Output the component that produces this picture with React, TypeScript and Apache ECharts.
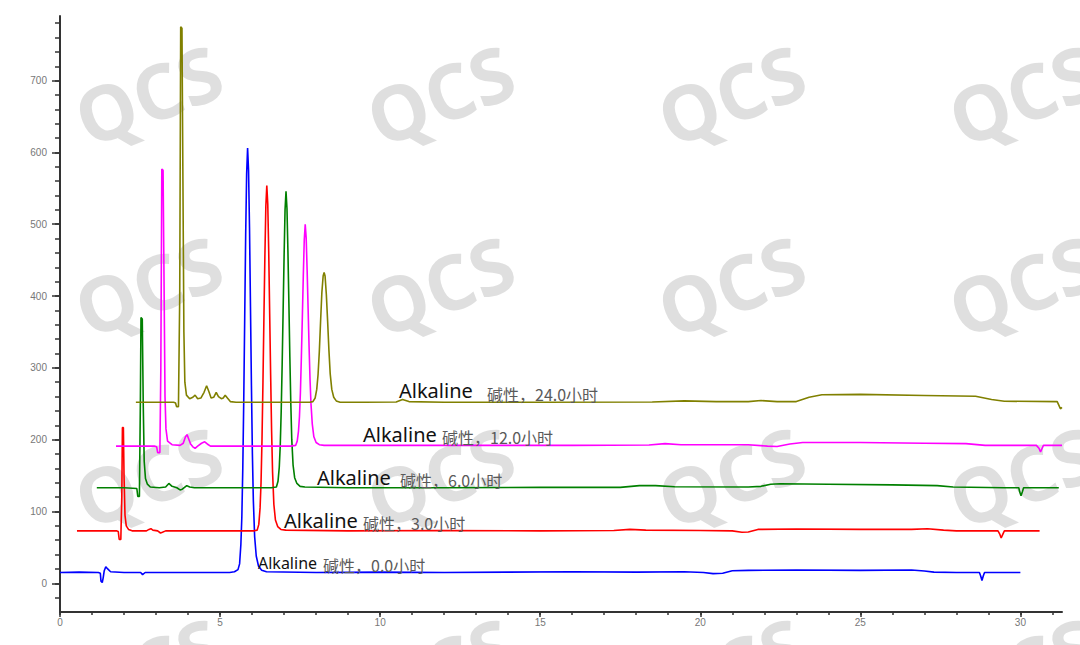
import React, { useEffect, useRef } from 'react';
import * as echarts from 'echarts';

// ---------- DATA ----------
const hourLabels = ['碱性，0.0小时', '碱性，3.0小时', '碱性，6.0小时', '碱性，12.0小时', '碱性，24.0小时'];
const sampleName = 'Alkaline';
const traceColors = ['#0000ff', '#ff0000', '#008000', '#ff00ff', '#808000'];

// retention time (min), signal
const trace0h: number[][] = [
  [0, 15], [0.6, 15.5], [1.2, 15], [1.26, 14], [1.28, 3], [1.32, 1], [1.35, 8], [1.38, 17], [1.43, 23], [1.49, 20], [1.58, 16],
  [2.0, 15], [2.52, 15], [2.58, 12], [2.66, 15], [3.5, 15], [4.5, 15], [5.3, 15],
  [5.45, 16], [5.56, 19], [5.61, 27], [5.65, 54], [5.68, 92], [5.71, 160], [5.74, 255], [5.77, 370], [5.8, 485], [5.83, 570],
  [5.86, 606], [5.89, 575], [5.92, 495], [5.95, 385], [5.98, 275], [6.01, 180], [6.04, 115], [6.08, 65], [6.13, 38], [6.2, 24],
  [6.3, 18], [6.45, 16], [8, 15], [10, 15.5], [12, 15], [14, 15.5], [16, 16], [18, 15.5], [19.5, 16], [20.1, 15], [20.4, 13.5],
  [20.7, 14], [21.0, 17.5], [21.5, 18], [23, 18.5], [25, 18], [26.6, 18.5], [27.0, 17], [27.3, 15.5], [28, 15], [28.72, 15],
  [28.76, 10], [28.8, 4], [28.84, 10], [28.88, 15], [29.5, 15], [30, 15],
];

const trace3h: number[][] = [
  [0.53, 73], [1.2, 73], [1.76, 73], [1.82, 72], [1.85, 61], [1.9, 61], [1.93, 120], [1.95, 217], [1.98, 217], [2.0, 150],
  [2.03, 95], [2.07, 80], [2.14, 75], [2.25, 73], [2.7, 73], [2.78, 75], [2.84, 76], [2.9, 74], [3.05, 73], [3.14, 70], [3.2, 71],
  [3.3, 73], [5, 73], [6.05, 73],
  [6.16, 74], [6.21, 82], [6.25, 105], [6.28, 140], [6.31, 200], [6.34, 280], [6.37, 370], [6.4, 455], [6.43, 525], [6.46, 554],
  [6.49, 528], [6.52, 462], [6.55, 375], [6.58, 290], [6.61, 212], [6.64, 155], [6.68, 110], [6.73, 88], [6.8, 79], [6.9, 75],
  [7.05, 74], [9, 73], [12, 73.5], [15, 73], [17.3, 73.5], [17.8, 75], [18.3, 74], [20, 73.5], [21.0, 73], [21.3, 71], [21.5, 71.5],
  [21.8, 75], [23, 75.5], [25, 75], [26.6, 75], [27.1, 76], [27.6, 74], [28, 73], [29.3, 73], [29.36, 68], [29.4, 63],
  [29.45, 68], [29.5, 73], [30.6, 73],
];

const trace6h: number[][] = [
  [1.15, 133], [2.0, 133], [2.4, 132], [2.43, 121], [2.48, 121], [2.51, 250], [2.53, 370], [2.57, 368], [2.6, 250], [2.63, 170],
  [2.67, 146], [2.73, 138], [2.82, 134], [3.1, 133], [3.3, 134], [3.4, 139], [3.5, 135], [3.65, 133], [3.75, 130], [3.82, 131],
  [3.96, 136], [4.05, 134], [4.2, 133], [6.6, 133],
  [6.76, 134], [6.81, 142], [6.85, 162], [6.88, 192], [6.91, 240], [6.94, 305], [6.97, 380], [7.0, 455], [7.03, 520], [7.06, 546],
  [7.09, 522], [7.12, 462], [7.15, 390], [7.18, 315], [7.21, 250], [7.24, 200], [7.28, 165], [7.33, 147], [7.4, 139], [7.5, 135],
  [7.65, 134], [9, 133], [12, 133], [15, 133.5], [17.5, 133.5], [18.1, 136], [18.6, 136], [19.2, 134.5], [21.5, 134], [21.9, 135],
  [22.2, 138], [22.5, 138.5], [24, 138], [26, 137], [27.4, 136], [27.9, 134], [29.5, 133], [29.95, 133], [29.98, 127],
  [30.02, 122], [30.06, 127], [30.1, 133], [31.2, 133],
];

const trace12h: number[][] = [
  [1.75, 191], [2.5, 191], [2.95, 191], [3.02, 190], [3.05, 182], [3.12, 182], [3.15, 300], [3.18, 577], [3.22, 575], [3.25, 420],
  [3.28, 260], [3.31, 215], [3.36, 198], [3.5, 193], [3.75, 192], [3.85, 195], [3.92, 204], [3.97, 207], [4.02, 201], [4.08, 194],
  [4.15, 190], [4.22, 188], [4.3, 191], [4.42, 195], [4.52, 197], [4.6, 194], [4.7, 191], [5.5, 191], [7.2, 191],
  [7.36, 192], [7.41, 198], [7.45, 212], [7.48, 232], [7.51, 266], [7.54, 315], [7.57, 370], [7.6, 428], [7.63, 478], [7.66, 500],
  [7.69, 481], [7.72, 436], [7.75, 383], [7.78, 330], [7.81, 284], [7.84, 250], [7.88, 222], [7.93, 204], [8.0, 196], [8.1, 193],
  [8.25, 192], [10, 192], [13, 192], [16, 192], [18.4, 192.5], [18.9, 194.5], [19.4, 193], [21.5, 193], [22.1, 191], [22.4, 190.5],
  [22.8, 194], [23.2, 196], [25, 196], [27, 195], [28.3, 194.5], [28.9, 192], [30.5, 192], [30.58, 188], [30.63, 183],
  [30.68, 188], [30.72, 192], [31.3, 192],
];

const trace24h: number[][] = [
  [2.37, 252], [3.0, 252], [3.55, 252], [3.61, 251], [3.64, 246], [3.7, 246], [3.74, 400], [3.77, 775], [3.81, 773], [3.84, 560],
  [3.87, 350], [3.9, 280], [3.95, 262], [4.05, 257], [4.15, 259], [4.22, 262], [4.3, 257], [4.4, 258], [4.5, 266], [4.58, 275],
  [4.65, 267], [4.72, 258], [4.8, 259], [4.88, 266], [4.95, 260], [5.04, 257], [5.1, 258], [5.16, 262], [5.23, 258], [5.32, 253],
  [5.5, 252], [7.8, 252],
  [7.9, 253], [7.97, 258], [8.02, 270], [8.06, 290], [8.1, 322], [8.14, 365], [8.18, 405], [8.22, 428], [8.25, 433], [8.28, 428],
  [8.32, 402], [8.36, 365], [8.4, 325], [8.44, 292], [8.49, 270], [8.55, 259], [8.63, 254], [8.75, 252],
  [9.5, 252], [10.5, 252.5], [10.7, 256], [10.9, 253], [12, 252], [15, 252], [18.5, 252.5], [19.5, 254], [20.5, 253], [21.5, 253],
  [21.9, 254.5], [22.4, 253], [23.0, 253], [23.4, 259], [23.8, 262.5], [25, 263], [27, 261.5], [28.6, 260.5], [29.1, 256],
  [29.5, 253.5], [31.15, 253], [31.2, 248], [31.25, 243], [31.3, 245],
];

const traces = [trace0h, trace3h, trace6h, trace12h, trace24h];

const yLabelValues = [0, 100, 200, 300, 400, 500, 600, 700];
const yMinorValues = [
  -20, 0, 20, 40, 60, 80, 100, 120, 140, 160, 180, 200, 220, 240, 260, 280, 300, 320, 340, 360, 380, 400,
  420, 440, 460, 480, 500, 520, 540, 560, 580, 600, 620, 640, 660, 680, 700, 720, 740, 760, 780,
];
const xLabelValues = [0, 5, 10, 15, 20, 25, 30];
const xMinorValues = [
  0, 1, 2, 3, 4, 5, 6, 7, 8, 9, 10, 11, 12, 13, 14, 15, 16, 17, 18, 19, 20, 21, 22, 23, 24, 25, 26, 27, 28, 29, 30, 31,
];

// ---------- LAYOUT ----------
const X_MIN = 0;
const X_MAX = 31.3;
const Y_MIN = -40;
const Y_MAX = 790;

// pixel placement of the trace annotations (layout only)
const labelLayout = [
  { ax: 258, cx: 323, ay: 563, cy: 565, aSize: 16, cSize: 16 },
  { ax: 284, cx: 363, ay: 520, cy: 523, aSize: 20, cSize: 16 },
  { ax: 317, cx: 400, ay: 477, cy: 480, aSize: 20, cSize: 16 },
  { ax: 363, cx: 442, ay: 434, cy: 437, aSize: 20, cSize: 16 },
  { ax: 399, cx: 487, ay: 390, cy: 394, aSize: 20, cSize: 16 },
];
const watermarkCols = [148, 440, 731, 1022];
const watermarkRows = [94, 285, 476, 667];

export default function App() {
  const ref = useRef<HTMLDivElement>(null);

  useEffect(() => {
    if (!ref.current) return;
    const chart = echarts.init(ref.current, undefined, { renderer: 'svg' });

    const graphics: any[] = [];
    watermarkRows.forEach((wy) => {
      watermarkCols.forEach((wx) => {
        graphics.push({
          type: 'text',
          x: wx,
          y: wy,
          rotation: (21 * Math.PI) / 180,
          z: 0,
          silent: true,
          style: {
            text: 'QCS',
            font: 'bold 76px "Open Sans", sans-serif',
            fill: 'rgba(120,120,120,0.24)',
            align: 'center',
            verticalAlign: 'middle',
          },
        });
      });
    });
    labelLayout.forEach((l, i) => {
      graphics.push({
        type: 'text',
        x: l.ax,
        y: l.ay,
        z: 100,
        style: {
          text: sampleName,
          font: `${l.aSize}px "Noto Sans", sans-serif`,
          fill: '#111111',
          align: 'left',
          verticalAlign: 'middle',
        },
      });
      graphics.push({
        type: 'text',
        x: l.cx,
        y: l.cy,
        z: 100,
        style: {
          text: hourLabels[i],
          font: `${l.cSize}px "Noto Sans CJK SC", sans-serif`,
          fill: '#5a5a5a',
          align: 'left',
          verticalAlign: 'middle',
        },
      });
    });

    const axisColor = '#333333';
    const labelStyle = { fontSize: 10, color: '#777777', fontFamily: 'Arial, "Liberation Sans", sans-serif' };

    chart.setOption({
      animation: false,
      backgroundColor: '#ffffff',
      grid: { left: 60, right: 18, top: 16, bottom: 33, containLabel: false, outerBoundsMode: 'none' },
      xAxis: [
        {
          type: 'value',
          min: X_MIN,
          max: X_MAX,
          position: 'bottom',
          axisLine: { show: true, onZero: false, lineStyle: { color: axisColor, width: 2 } },
          axisTick: { show: true, customValues: xLabelValues, length: 5, lineStyle: { color: axisColor, width: 1.5 } },
          axisLabel: { show: true, customValues: xLabelValues, margin: 5, ...labelStyle },
          splitLine: { show: false },
        },
        {
          type: 'value',
          min: X_MIN,
          max: X_MAX,
          position: 'bottom',
          axisLine: { show: false, onZero: false },
          axisTick: { show: true, customValues: xMinorValues, length: 3, lineStyle: { color: axisColor, width: 1.5 } },
          axisLabel: { show: false },
          splitLine: { show: false },
        },
      ],
      yAxis: [
        {
          type: 'value',
          min: Y_MIN,
          max: Y_MAX,
          position: 'left',
          axisLine: { show: true, onZero: false, lineStyle: { color: axisColor, width: 2 } },
          axisTick: { show: true, customValues: yLabelValues, length: 8, lineStyle: { color: axisColor, width: 1.5 } },
          axisLabel: { show: true, customValues: yLabelValues, margin: 13, ...labelStyle },
          splitLine: { show: false },
        },
        {
          type: 'value',
          min: Y_MIN,
          max: Y_MAX,
          position: 'left',
          axisLine: { show: false, onZero: false },
          axisTick: { show: true, customValues: yMinorValues, length: 5, lineStyle: { color: axisColor, width: 1.5 } },
          axisLabel: { show: false },
          splitLine: { show: false },
        },
      ],
      series: traces.map((d, i) => ({
        type: 'line',
        name: hourLabels[i],
        data: d,
        xAxisIndex: 0,
        yAxisIndex: 0,
        showSymbol: false,
        symbol: 'none',
        silent: true,
        z: 2,
        lineStyle: { color: traceColors[i], width: 1.6 },
      })),
      graphic: graphics,
    });

    return () => chart.dispose();
  }, []);

  return (
    <div
      ref={ref}
      style={{ position: 'fixed', left: 0, top: 0, width: 1080, height: 645, background: '#fff' }}
    />
  );
}
